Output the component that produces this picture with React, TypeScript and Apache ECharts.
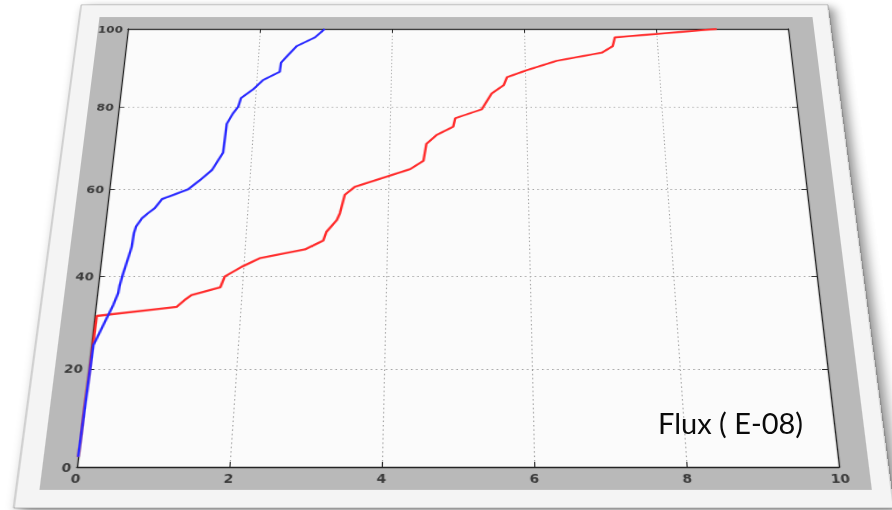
import React, { useEffect, useRef } from "react";
import * as echarts from "echarts";

// ---- data ----
const X_TICKS = [0, 2, 4, 6, 8, 10];
const Y_TICKS = [0, 20, 40, 60, 80, 100];

const BLUE_X = [0.0, 0.03, 0.16, 0.24, 0.29, 0.3, 0.33, 0.38, 0.41, 0.42, 0.44, 0.51, 0.59, 0.68, 0.77, 0.88, 1.13, 1.29, 1.45, 1.59, 1.61, 1.69, 1.76, 1.79, 1.96, 2.1, 2.34, 2.35, 2.45, 2.57, 2.84, 2.98];
const BLUE_Y = [2, 25, 30.4, 33.7, 36.3, 38.1, 40.7, 44.4, 46.7, 49.8, 51.3, 53.2, 54.4, 55.6, 57.7, 58.4, 60.0, 62.2, 64.6, 68.8, 75.8, 78.4, 80.1, 82.2, 84.4, 86.8, 88.9, 91.2, 93.2, 95.5, 97.8, 100];

const RED_X = [0.0, 0.03, 1.12, 1.22, 1.31, 1.7, 1.75, 1.98, 2.22, 2.85, 3.1, 3.14, 3.28, 3.32, 3.38, 3.52, 4.31, 4.5, 4.54, 4.69, 4.93, 4.96, 5.35, 5.5, 5.68, 5.73, 6.03, 6.48, 7.16, 7.33, 7.37, 8.92];
const RED_Y = [2, 31.3, 33.3, 34.8, 35.9, 37.6, 40.0, 42.2, 44.1, 46.1, 48.1, 50.1, 52.8, 54.4, 58.7, 60.6, 64.8, 66.8, 70.9, 73.1, 75.1, 77.2, 79.4, 83.4, 85.5, 87.5, 89.3, 91.7, 93.8, 95.5, 97.8, 100];

const OVERLAY_LABEL = "Flux ( E-08)";

// ---- geometry (flat chart, then projected) ----
const FLAT_W = 780;
const FLAT_H = 620;
const PL = 60;
const PT = 40;
const PW = 660;
const PH = 511;
// target quad of the plot area on screen
const Q_TOP_Y = 29;
const Q_BOT_Y = 467;
const Q_TOP_L = 128;
const Q_TOP_R = 788;
const Q_BOT_L = 77;
const Q_BOT_R = 839;

function perspectiveMatrix(): string {
  const topW = Q_TOP_R - Q_TOP_L;
  const botW = Q_BOT_R - Q_BOT_L;
  const cx = (Q_TOP_L + Q_TOP_R + Q_BOT_L + Q_BOT_R) / 4;
  const h = topW / botW - 1;
  const e = Q_TOP_Y;
  const d = Q_BOT_Y * (1 + h) - e;
  const D2 = h / PH;
  const D0 = 1 - (h * PT) / PH;
  const s = topW / PW;
  const a4 = cx * D0 - s * PL - topW / 2;
  const b4 = e - (d * PT) / PH;
  return `matrix3d(${s},0,0,0,${cx * D2},${d / PH},0,${D2},0,0,1,0,${a4},${b4},0,${D0})`;
}

const FONT = "DejaVu Sans";
const AXIS_COLOR = "#222222";
const LABEL_STYLE = { fontSize: 12, color: "#3a3a3a", fontFamily: FONT, fontWeight: "bold" as const };
const GRID_LINE = { color: "#9e9e9e", type: [1.5, 3] as number[], width: 1 };

function makeX(position: "bottom" | "top", labels: boolean) {
  return {
    type: "value",
    position,
    min: X_TICKS[0],
    max: X_TICKS[X_TICKS.length - 1],
    interval: X_TICKS[1] - X_TICKS[0],
    axisLine: { show: true, onZero: false, lineStyle: { color: AXIS_COLOR, width: 1.3 } },
    axisTick: { show: true, inside: true, length: 5, lineStyle: { color: AXIS_COLOR, width: 1 } },
    axisLabel: { show: labels, margin: 5, ...LABEL_STYLE },
    splitLine: { show: labels, lineStyle: GRID_LINE },
  };
}

function makeY(position: "left" | "right", labels: boolean) {
  return {
    type: "value",
    position,
    min: Y_TICKS[0],
    max: Y_TICKS[Y_TICKS.length - 1],
    interval: Y_TICKS[1] - Y_TICKS[0],
    axisLine: { show: true, onZero: false, lineStyle: { color: AXIS_COLOR, width: 1.3 } },
    axisTick: { show: true, inside: true, length: 5, lineStyle: { color: AXIS_COLOR, width: 1 } },
    axisLabel: { show: labels, margin: 5, ...LABEL_STYLE },
    splitLine: { show: labels, lineStyle: GRID_LINE },
  };
}

export default function App() {
  const mainRef = useRef<HTMLDivElement>(null);
  const overRef = useRef<HTMLDivElement>(null);

  useEffect(() => {
    const main = echarts.init(mainRef.current!, null, { renderer: "svg" });
    main.setOption({
      animation: false,
      backgroundColor: "transparent",
      grid: {
        left: PL,
        top: PT,
        width: PW,
        height: PH,
        show: true,
        backgroundColor: "#fbfbfb",
        borderWidth: 0,
      },
      xAxis: [makeX("bottom", true), makeX("top", false)],
      yAxis: [makeY("left", true), makeY("right", false)],
      graphic: [
        {
          type: "rect",
          z: -20,
          shape: { x: 10, y: 7, width: 753, height: 585 },
          style: {
            fill: "#f4f4f4",
            stroke: "rgba(0,0,0,0.25)",
            lineWidth: 1,
            shadowBlur: 12,
            shadowColor: "rgba(0,0,0,0.45)",
            shadowOffsetX: 5,
            shadowOffsetY: 4,
          },
        },
        {
          type: "rect",
          z: -10,
          shape: { x: 30, y: 24, width: 716, height: 550 },
          style: { fill: "#b9b9b9" },
        },
      ],
      series: [
        {
          type: "line",
          xAxisIndex: 0,
          yAxisIndex: 0,
          showSymbol: false,
          data: RED_X.map((x, i) => [x, RED_Y[i]]),
          lineStyle: { color: "#ff2b2b", width: 2.4 },
          itemStyle: { color: "#ff2b2b" },
        },
        {
          type: "line",
          xAxisIndex: 0,
          yAxisIndex: 0,
          showSymbol: false,
          data: BLUE_X.map((x, i) => [x, BLUE_Y[i]]),
          lineStyle: { color: "#2b2bff", width: 2.4 },
          itemStyle: { color: "#2b2bff" },
        },
      ],
    });

    const over = echarts.init(overRef.current!, null, { renderer: "svg" });
    over.setOption({
      animation: false,
      backgroundColor: "transparent",
      graphic: [
        {
          type: "text",
          x: 658,
          y: 422,
          style: {
            text: OVERLAY_LABEL,
            fontFamily: "Lato",
            fontSize: 29,
            fill: "#0a0a0a",
            align: "left",
            verticalAlign: "middle",
          },
        },
      ],
    });

    return () => {
      main.dispose();
      over.dispose();
    };
  }, []);

  return (
    <div
      style={{
        position: "fixed",
        left: 0,
        top: 0,
        width: 892,
        height: 510,
        overflow: "hidden",
        background: "#ffffff",
      }}
    >
      <div
        ref={mainRef}
        style={{
          position: "absolute",
          left: 0,
          top: 0,
          width: FLAT_W,
          height: FLAT_H,
          transformOrigin: "0 0",
          transform: perspectiveMatrix(),
        }}
      />
      <div
        ref={overRef}
        style={{
          position: "absolute",
          left: 0,
          top: 0,
          width: 892,
          height: 510,
          pointerEvents: "none",
        }}
      />
    </div>
  );
}
